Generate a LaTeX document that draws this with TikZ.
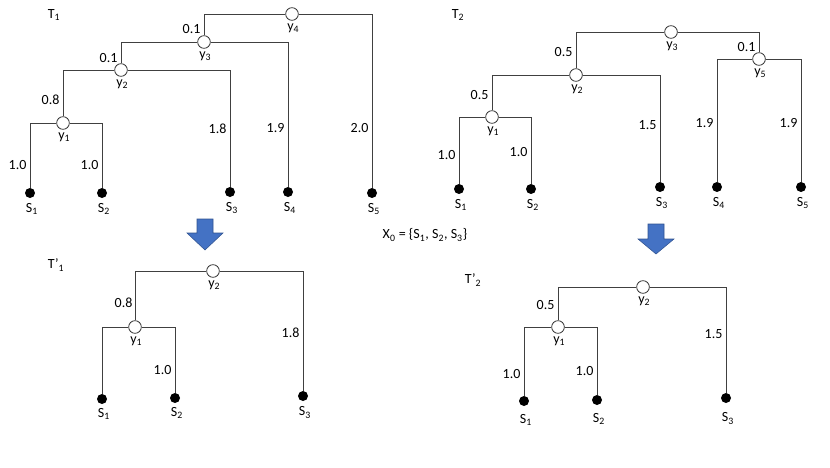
\documentclass[tikz,border=0pt]{standalone}
\usepackage{fontspec}
\setmainfont{Carlito}
\usetikzlibrary{positioning}

\definecolor{arrowblue}{RGB}{68,114,196}
\definecolor{arrowedge}{RGB}{47,82,143}

\tikzset{
  inner/.style={circle, draw=black!80, fill=white, line width=0.6pt, minimum size=9.5pt, inner sep=0pt},
  leaf/.style={circle, fill=black, minimum size=7.5pt, inner sep=0pt},
  edge/.style={draw=black!75, line width=0.6pt},
  len/.style={anchor=east, inner sep=1pt},
  ylab/.style={inner sep=1pt, xshift=1pt},
  slab/.style={inner sep=1pt, xshift=1.5pt},
  bigarrow/.style={fill=arrowblue, draw=arrowedge, line width=0.4pt}
}

\begin{document}
\begin{tikzpicture}[x=0.75pt,y=0.75pt,yscale=-1,xscale=1,font=\fontsize{10.5}{12.6}\selectfont]
\path (0,0) rectangle (830,467); %set diagram size

% Tree T1
\node (t1name) at (54,15) {T\textsubscript{1}};
\node[inner] (t1y4) at (292,14) {};
\node[inner] (t1y3) at (204,42) {};
\node[inner] (t1y2) at (121,70) {};
\node[inner] (t1y1) at (63,123) {};
\node[leaf] (t1s1) at (30,193) {};
\node[leaf] (t1s2) at (102,193) {};
\node[leaf] (t1s3) at (230,192) {};
\node[leaf] (t1s4) at (288,192) {};
\node[leaf] (t1s5) at (372,193) {};

\draw[edge] (t1y4) -| (t1y3);
\draw[edge] (t1y4) -| (t1s5);
\draw[edge] (t1y3) -| (t1y2);
\draw[edge] (t1y3) -| (t1s4);
\draw[edge] (t1y2) -| (t1y1);
\draw[edge] (t1y2) -| (t1s3);
\draw[edge] (t1y1) -| (t1s1);
\draw[edge] (t1y1) -| (t1s2);

\node[ylab, below=1pt of t1y4] (t1ly4) {y\textsubscript{4}};
\node[ylab, below=1pt of t1y3] (t1ly3) {y\textsubscript{3}};
\node[ylab, below=1pt of t1y2] (t1ly2) {y\textsubscript{2}};
\node[ylab, below=1pt of t1y1] (t1ly1) {y\textsubscript{1}};
\node[slab, below=2.5pt of t1s1] (t1ls1) {S\textsubscript{1}};
\node[slab, below=2.5pt of t1s2] (t1ls2) {S\textsubscript{2}};
\node[slab, below=2.5pt of t1s3] (t1ls3) {S\textsubscript{3}};
\node[slab, below=2.5pt of t1s4] (t1ls4) {S\textsubscript{4}};
\node[slab, below=2.5pt of t1s5] (t1ls5) {S\textsubscript{5}};

% Text Node
\node[len] (t1e3) at (202,29) {0.1};
\node[len] (t1e2) at (119,58) {0.1};
\node[len] (t1e1) at (61,100) {0.8};
\node[len] (t1es3) at (228,129) {1.8};
\node[len] (t1es4) at (286,128) {1.9};
\node[len] (t1es5) at (370,128) {2.0};
\node[len] (t1es1) at (28,165) {1.0};
\node[len] (t1es2) at (100,165) {1.0};

% Tree T2
\node (t2name) at (458,15) {T\textsubscript{2}};
\node[inner] (t2y3) at (671,32) {};
\node[inner] (t2y2) at (576,75) {};
\node[inner] (t2y5) at (759,59) {};
\node[inner] (t2y1) at (492,117) {};
\node[leaf] (t2s1) at (459,189) {};
\node[leaf] (t2s2) at (531,189) {};
\node[leaf] (t2s3) at (660,187) {};
\node[leaf] (t2s4) at (717,187) {};
\node[leaf] (t2s5) at (801,187) {};

\draw[edge] (t2y3) -| (t2y2);
\draw[edge] (t2y3) -| (t2y5);
\draw[edge] (t2y2) -| (t2y1);
\draw[edge] (t2y2) -| (t2s3);
\draw[edge] (t2y5) -| (t2s4);
\draw[edge] (t2y5) -| (t2s5);
\draw[edge] (t2y1) -| (t2s1);
\draw[edge] (t2y1) -| (t2s2);

\node[ylab, below=1pt of t2y3] (t2ly3) {y\textsubscript{3}};
\node[ylab, below=1pt of t2y2] (t2ly2) {y\textsubscript{2}};
\node[ylab, below=1pt of t2y5] (t2ly5) {y\textsubscript{5}};
\node[ylab, below=1pt of t2y1] (t2ly1) {y\textsubscript{1}};
\node[slab, below=2.5pt of t2s1] (t2ls1) {S\textsubscript{1}};
\node[slab, below=2.5pt of t2s2] (t2ls2) {S\textsubscript{2}};
\node[slab, below=2.5pt of t2s3] (t2ls3) {S\textsubscript{3}};
\node[slab, below=2.5pt of t2s4] (t2ls4) {S\textsubscript{4}};
\node[slab, below=2.5pt of t2s5] (t2ls5) {S\textsubscript{5}};

% Text Node
\node[len] (t2e2) at (574,52) {0.5};
\node[len] (t2e5) at (757,47) {0.1};
\node[len] (t2e1) at (490,95) {0.5};
\node[len] (t2es3) at (658,125) {1.5};
\node[len] (t2es4) at (715,123) {1.9};
\node[len] (t2es5) at (799,123) {1.9};
\node[len] (t2es1) at (457,155) {1.0};
\node[len] (t2es2) at (529,152) {1.0};

% Block Arrows
\draw[bigarrow] (197,219) -- (213,219) -- (213,233) -- (223,233) -- (205,250)
  -- (187,233) -- (197,233) -- cycle;
\draw[bigarrow] (648,224) -- (664,224) -- (664,239) -- (674,239) -- (656,254)
  -- (638,239) -- (648,239) -- cycle;

% Text Node
\node (x0) at (425,235) {X\textsubscript{0} = \{S\textsubscript{1}, S\textsubscript{2}, S\textsubscript{3}\}};

% Tree T'1
\node (t3name) at (56,265) {T’\textsubscript{1}};
\node[inner] (t3y2) at (213,271) {};
\node[inner] (t3y1) at (135,327) {};
\node[leaf] (t3s1) at (102,399) {};
\node[leaf] (t3s2) at (175,398) {};
\node[leaf] (t3s3) at (303,396) {};

\draw[edge] (t3y2) -| (t3y1);
\draw[edge] (t3y2) -| (t3s3);
\draw[edge] (t3y1) -| (t3s1);
\draw[edge] (t3y1) -| (t3s2);

\node[ylab, below=1pt of t3y2] (t3ly2) {y\textsubscript{2}};
\node[ylab, below=1pt of t3y1] (t3ly1) {y\textsubscript{1}};
\node[slab, below=2pt of t3s1] (t3ls1) {S\textsubscript{1}};
\node[slab, below=2pt of t3s2] (t3ls2) {S\textsubscript{2}};
\node[slab, below=3pt of t3s3] (t3ls3) {S\textsubscript{3}};

% Text Node
\node[len] (t3e1) at (134,303) {0.8};
\node[len] (t3es3) at (301,333) {1.8};
\node[len] (t3es2) at (173,370) {1.0};

% Tree T'2
\node (t4name) at (473,280) {T’\textsubscript{2}};
\node[inner] (t4y2) at (643,287) {};
\node[inner] (t4y1) at (558,327) {};
\node[leaf] (t4s1) at (524,401) {};
\node[leaf] (t4s2) at (597,400) {};
\node[leaf] (t4s3) at (726,398) {};

\draw[edge] (t4y2) -| (t4y1);
\draw[edge] (t4y2) -| (t4s3);
\draw[edge] (t4y1) -| (t4s1);
\draw[edge] (t4y1) -| (t4s2);

\node[ylab, below=1pt of t4y2] (t4ly2) {y\textsubscript{2}};
\node[ylab, below=1pt of t4y1] (t4ly1) {y\textsubscript{1}};
\node[slab, below=5pt of t4s1] (t4ls1) {S\textsubscript{1}};
\node[slab, below=5pt of t4s2] (t4ls2) {S\textsubscript{2}};
\node[slab, below=6pt of t4s3] (t4ls3) {S\textsubscript{3}};

% Text Node
\node[len] (t4e1) at (556,305) {0.5};
\node[len] (t4es3) at (724,334) {1.5};
\node[len] (t4es1) at (522,374) {1.0};
\node[len] (t4es2) at (595,371) {1.0};

\end{tikzpicture}
\end{document}
